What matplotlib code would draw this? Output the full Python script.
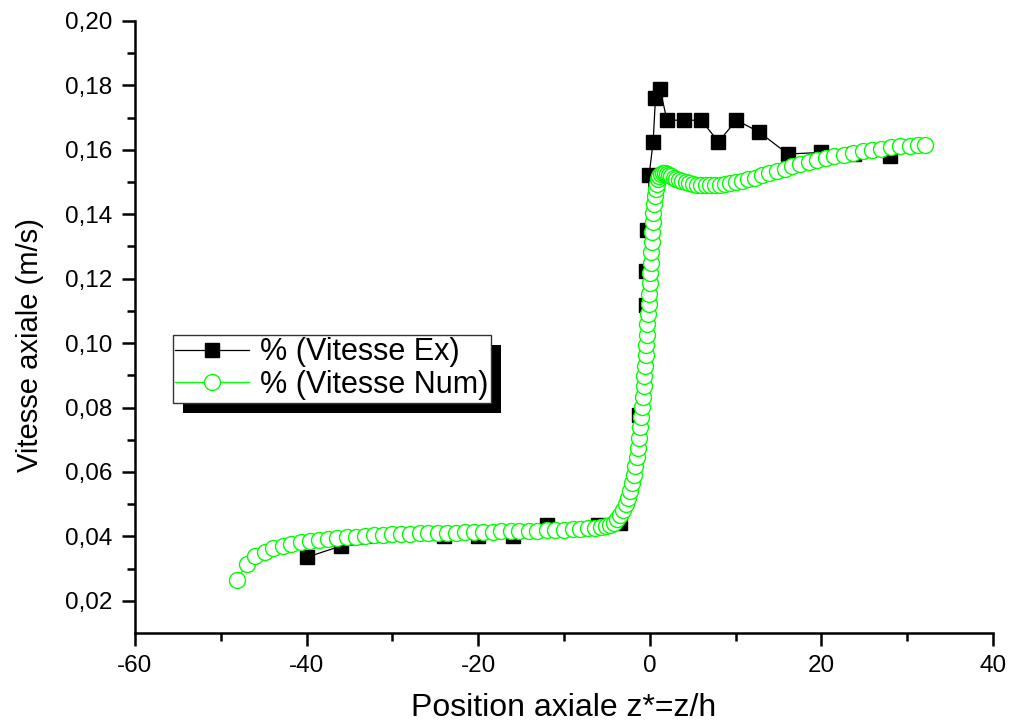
import matplotlib
matplotlib.use('Agg')
import matplotlib.pyplot as plt
from matplotlib.ticker import FixedLocator, FuncFormatter
from matplotlib.patches import Rectangle

plt.rcParams['font.family'] = ['Liberation Sans', 'DejaVu Sans']
plt.rcParams['axes.unicode_minus'] = False

# Experimental data
xe = [-40, -36, -24, -20, -16, -12, -6, -3.5, -1.25, -0.5, -0.45, -0.3, -0.08,
      0.39, 0.66, 1.2, 2.0, 4.0, 6.0, 8.0, 10.1, 12.7, 16.1, 20.0, 23.8, 28.0]
ye = [0.0335, 0.0370, 0.0400, 0.0400, 0.0400, 0.0436, 0.0436, 0.0440, 0.0777,
      0.1118, 0.1224, 0.1350, 0.1521, 0.1625, 0.1760, 0.1788, 0.1692, 0.1692,
      0.1692, 0.1625, 0.1692, 0.1656, 0.1587, 0.1592, 0.1588, 0.1580]

# Numerical data
xn = [-48.1, -47.0, -46.0, -44.9, -43.9, -42.8, -41.8, -40.7, -39.6, -38.5,
      -37.5, -36.4, -35.3, -34.3, -33.2, -32.1, -31.1, -30.0, -29.0, -27.9,
      -26.8, -25.8, -24.7, -23.6, -22.6, -21.5, -20.5, -19.4, -18.3, -17.3,
      -16.2, -15.2, -14.1, -13.1, -12.0, -11.0, -10.0, -9.0, -8.1, -7.2,
      -6.4, -5.7, -5.1, -4.6, -4.2, -3.8, -3.45, -3.1, -2.8, -2.5,
      -2.25, -2.05, -1.85, -1.68, -1.52, -1.38, -1.25, -1.13, -1.02, -0.92,
      -0.82, -0.73, -0.64, -0.56, -0.48, -0.41, -0.34, -0.27, -0.20, -0.13,
      -0.06, 0.0, 0.06, 0.12, 0.18, 0.24, 0.30, 0.36, 0.43, 0.50,
      0.58, 0.68, 0.80, 0.94, 1.12, 1.30, 1.50, 1.72, 1.95, 2.2,
      2.5, 2.8, 3.1, 3.45, 3.8, 4.2, 4.6, 5.05, 5.5, 6.0,
      6.5, 7.05, 7.6, 8.2, 8.8, 9.4, 10.1, 10.8, 11.5, 12.3,
      13.1, 13.9, 14.8, 15.7, 16.6, 17.5, 18.5, 19.5, 20.5, 21.5,
      22.6, 23.7, 24.8, 25.9, 27.0, 28.1, 29.2, 30.3, 31.3, 32.1]
yn = [0.0265, 0.0313, 0.0339, 0.0352, 0.0363, 0.0370, 0.0376, 0.0381, 0.0386, 0.0389,
      0.0392, 0.0395, 0.0397, 0.0399, 0.0401, 0.0403, 0.0405, 0.0406, 0.0407, 0.0408,
      0.0409, 0.0410, 0.0411, 0.0412, 0.0412, 0.0413, 0.0414, 0.0414, 0.0415, 0.0416,
      0.0416, 0.0417, 0.0418, 0.0418, 0.0419, 0.0420, 0.0421, 0.0422, 0.0423, 0.0425,
      0.0427, 0.0429, 0.0431, 0.0436, 0.0443, 0.0453, 0.0466, 0.0482, 0.0500, 0.0520,
      0.0542, 0.0565, 0.0590, 0.0617, 0.0645, 0.0675, 0.0706, 0.0738, 0.0770, 0.0802,
      0.0834, 0.0866, 0.0898, 0.0930, 0.0962, 0.0994, 0.1026, 0.1058, 0.1090, 0.1122,
      0.1154, 0.1186, 0.1218, 0.1250, 0.1282, 0.1314, 0.1346, 0.1376, 0.1405, 0.1432,
      0.1456, 0.1477, 0.1495, 0.1509, 0.1519, 0.1525, 0.1527, 0.1527, 0.1525, 0.1522,
      0.1518, 0.1514, 0.1510, 0.1506, 0.1502, 0.1499, 0.1496, 0.1494, 0.1492, 0.1491,
      0.1490, 0.1490, 0.1491, 0.1492, 0.1494, 0.1496, 0.1499, 0.1503, 0.1508, 0.1514,
      0.1521, 0.1528, 0.1535, 0.1542, 0.1549, 0.1556, 0.1562, 0.1568, 0.1574, 0.1580,
      0.1585, 0.1590, 0.1595, 0.1600, 0.1604, 0.1608, 0.1611, 0.1613, 0.1615, 0.1616]

x_major = [-60, -40, -20, 0, 20, 40]
x_minor = [-50, -30, -10, 10, 30]
y_major = [0.02, 0.04, 0.06, 0.08, 0.10, 0.12, 0.14, 0.16, 0.18, 0.20]
y_minor = [0.03, 0.05, 0.07, 0.09, 0.11, 0.13, 0.15, 0.17, 0.19]

fig = plt.figure(figsize=(10.16, 7.24), dpi=100)
ax = fig.add_axes([135/1016, 91/724, 858/1016, 612/724])

ax.plot(xe, ye, color='black', lw=0.9, marker='s', ms=10, mfc='black',
        mec='black', label='% (Vitesse Ex)', zorder=2)
ax.plot(xn, yn, color='#00ff00', lw=1.0, marker='o', ms=11.5, mfc='white',
        mec='#00ff00', mew=1.0, label='% (Vitesse Num)', zorder=3)

ax.set_xlim(-60, 40)
ax.set_ylim(0.01, 0.20)
for s in ['top', 'right']:
    ax.spines[s].set_visible(False)
for s in ['left', 'bottom']:
    ax.spines[s].set_linewidth(1.8)

ax.xaxis.set_major_locator(FixedLocator(x_major))
ax.xaxis.set_minor_locator(FixedLocator(x_minor))
ax.yaxis.set_major_locator(FixedLocator(y_major))
ax.yaxis.set_minor_locator(FixedLocator(y_minor))
ax.xaxis.set_major_formatter(FuncFormatter(lambda v, p: f"{v:.0f}"))
ax.yaxis.set_major_formatter(FuncFormatter(lambda v, p: f"{v:.2f}".replace('.', ',')))

ax.tick_params(axis='both', which='major', direction='out', length=9.4, width=1.8, labelsize=17.5)
ax.tick_params(axis='both', which='minor', direction='out', length=5.8, width=1.8)
ax.tick_params(axis='x', which='major', pad=6.5)
ax.tick_params(axis='y', which='major', pad=7)

ax.set_xlabel('Position axiale z*=z/h', fontsize=23)
ax.xaxis.set_label_coords(0.5, -0.098)
ax.set_ylabel('Vitesse axiale (m/s)', fontsize=21)
ax.yaxis.set_label_coords(-0.106, 0.47)

leg = ax.legend(loc='upper left', bbox_to_anchor=(0.0443, 0.487), borderaxespad=0,
                fontsize=22, frameon=True, fancybox=False, framealpha=1,
                edgecolor='#333333', borderpad=0.08, labelspacing=0.09,
                handlelength=2.42, handletextpad=0.36)
leg.get_frame().set_linewidth(1.0)
leg.set_zorder(5)

fig.canvas.draw()
bb = leg.get_window_extent()
inv = ax.transAxes.inverted()
x0, y0 = inv.transform((bb.x0 + 10, bb.y0 - 10))
x1, y1 = inv.transform((bb.x1 + 10, bb.y1 - 10))
ax.add_patch(Rectangle((x0, y0), x1 - x0, y1 - y0, transform=ax.transAxes,
                       facecolor='black', edgecolor='none', zorder=4.5, clip_on=False))

fig.savefig('out.png', dpi=100)
